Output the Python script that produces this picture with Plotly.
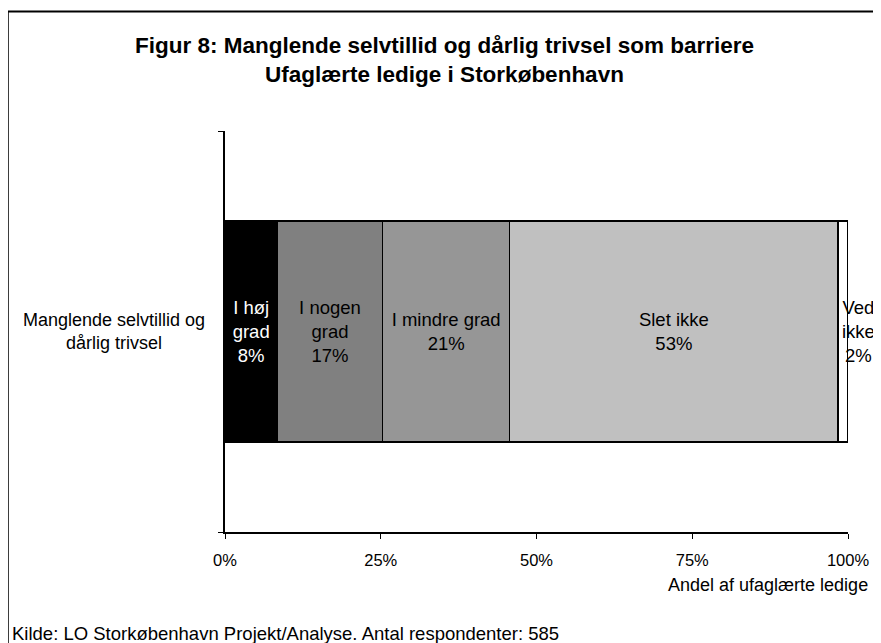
import plotly.graph_objects as go

# Data
category = "Manglende selvtillid og dårlig trivsel"
category_label = "Manglende selvtillid og<br>dårlig trivsel"
answers = ["I høj grad", "I nogen grad", "I mindre grad", "Slet ikke", "Ved ikke"]
answer_lines = ["I høj<br>grad", "I nogen<br>grad", "I mindre grad", "Slet ikke", "Ved<br>ikke"]
shares = [8.4, 16.9, 20.4, 52.7, 1.6]
shown_pct = [8, 17, 21, 53, 2]
fills = ["#000000", "#808080", "#969696", "#C0C0C0", "#FFFFFF"]
text_colors = ["#FFFFFF", "#000000", "#000000", "#000000", "#000000"]
tick_vals = [0, 25, 50, 75, 100]
tick_text = ["0%", "25%", "50%", "75%", "100%"]

FONT = "Liberation Sans, Arial, sans-serif"

fig = go.Figure()
for i, (name, lines, share, pct, fill, tc) in enumerate(
    zip(answers, answer_lines, shares, shown_pct, fills, text_colors)
):
    last = i == len(answers) - 1
    fig.add_trace(
        go.Bar(
            x=[share],
            y=[category],
            orientation="h",
            name=name,
            marker=dict(color=fill, line=dict(color="#000000", width=1.5)),
            text=[""] if last else [f"{lines}<br>{pct}%"],
            textposition="inside",
            insidetextanchor="middle",
            textfont=dict(color=tc, size=18.5, family=FONT),
            width=0.55,
            showlegend=False,
        )
    )

# "Ved ikke" label sits just past the thin last segment
fig.add_annotation(
    x=sum(shares[:-1]) + shares[-1] / 2,
    y=category,
    xref="x",
    yref="y",
    xshift=15,
    text=f"{answer_lines[-1]}<br>{shown_pct[-1]}%",
    showarrow=False,
    font=dict(size=18.5, color="#000000", family=FONT),
    align="center",
)

# category label, centred lines like the original
fig.add_annotation(
    x=-0.178,
    y=category,
    xref="paper",
    yref="y",
    xanchor="center",
    yanchor="middle",
    text=category_label,
    showarrow=False,
    font=dict(size=18, color="#000000", family=FONT),
    align="center",
)

# axis title, right aligned under the last tick
fig.add_annotation(
    x=1.036,
    y=-0.132,
    xref="paper",
    yref="paper",
    xanchor="right",
    yanchor="middle",
    text="Andel af ufaglærte ledige",
    showarrow=False,
    font=dict(size=18, color="#000000", family=FONT),
)

# source note
fig.add_annotation(
    x=-0.3455,
    y=-0.252,
    xref="paper",
    yref="paper",
    xanchor="left",
    yanchor="middle",
    text="Kilde: LO Storkøbenhavn Projekt/Analyse. Antal respondenter: 585",
    showarrow=False,
    font=dict(size=18.5, color="#000000", family=FONT),
)

# chart frame (runs off the right/bottom edge in the original)
fig.add_shape(
    type="rect",
    xref="paper",
    yref="paper",
    x0=-0.3487,
    x1=1.2,
    y0=-0.5,
    y1=1.298,
    line=dict(color="#000000", width=2),
    fillcolor="rgba(0,0,0,0)",
    layer="above",
)

# page body adds a small margin, so the figure is a bit smaller than the window
fig.update_layout(
    width=873,
    height=635,
    margin=dict(l=217, r=24, t=123, b=111),
    barmode="stack",
    paper_bgcolor="#FFFFFF",
    plot_bgcolor="#FFFFFF",
    font=dict(family=FONT, size=17, color="#000000"),
    title=dict(
        text="Figur 8: Manglende selvtillid og dårlig trivsel som barriere<br>Ufaglærte ledige i Storkøbenhavn",
        x=0.5,
        xanchor="center",
        y=0.929,
        yanchor="top",
        font=dict(family=FONT, size=22.5, color="#000000", weight="bold"),
    ),
    showlegend=False,
)

fig.update_xaxes(
    range=[0, 100],
    tickvals=tick_vals,
    ticktext=tick_text,
    ticks="outside",
    ticklen=5,
    tickcolor="#000000",
    showline=True,
    linecolor="#000000",
    linewidth=1.5,
    showgrid=False,
    zeroline=False,
    ticklabelstandoff=7,
    tickfont=dict(size=16.5, family=FONT, color="#000000"),
)
fig.update_yaxes(
    type="category",
    showticklabels=False,
    ticks="outside",
    tickson="boundaries",
    ticklen=5,
    tickcolor="#000000",
    showline=True,
    linecolor="#000000",
    linewidth=1.5,
    showgrid=False,
    zeroline=False,
)

fig.write_html("out.html")
